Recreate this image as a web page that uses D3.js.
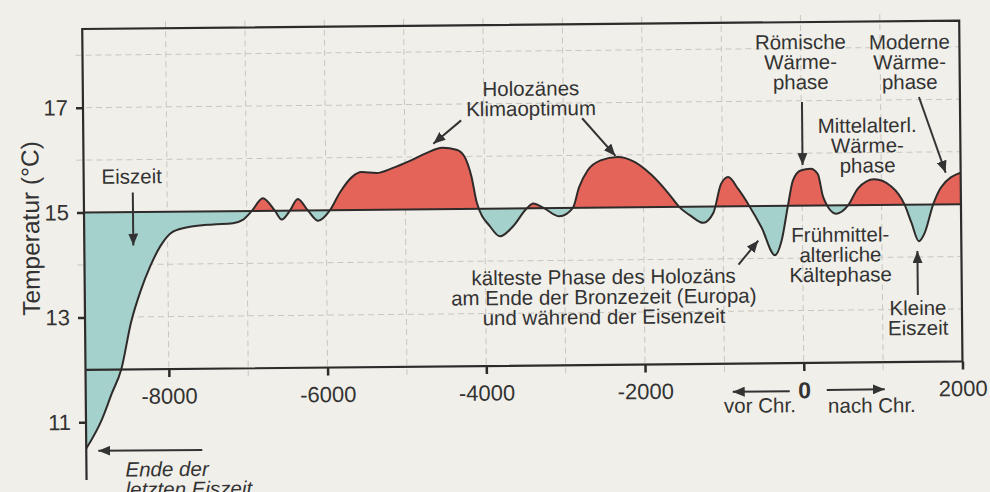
<!DOCTYPE html>
<html>
<head>
<meta charset="utf-8">
<script src="https://cdn.jsdelivr.net/npm/d3@7"></script>
<style>
  body { margin: 0; background: #f1efea; }
  text { font-family: "Liberation Sans", Arial, Helvetica, sans-serif; fill: #333; }
</style>
</head>
<body>
<script>
// Temperaturverlauf im Holozän
const years = [-9050, -8850, -8720, -8600, -8470, -8345, -8220, -8090, -7930, -7715, -7425, -7175, -7050,
  -6935, -6795, -6645, -6560, -6455, -6355, -6230, -6100, -5950, -5825, -5660, -5550, -5360, -5160,
  -4945, -4730, -4530, -4350, -4250, -4165, -4100, -3935, -3810, -3645, -3470, -3390, -3255, -3060,
  -2890, -2810, -2700, -2535, -2320, -2115, -1900, -1690, -1550, -1400, -1250, -1120, -1020, -930,
  -805, -665, -515, -350, -265, -180, -115, -15, 110, 200, 265, 430, 580, 705, 910, 1125, 1290,
  1375, 1465, 1540, 1650, 1750, 2000];
const temps = [10.5, 11.05, 11.55, 12.0, 12.9, 13.5, 13.97, 14.35, 14.62, 14.71, 14.75, 14.77, 14.83,
  15.0, 15.24, 15.0, 14.83, 15.0, 15.22, 15.0, 14.8, 15.0, 15.33, 15.64, 15.72, 15.7, 15.79,
  15.92, 16.07, 16.17, 16.13, 16.0, 15.62, 15.12, 14.66, 14.47, 14.66, 15.0, 15.09, 15.0, 14.84,
  15.0, 15.39, 15.71, 15.9, 15.96, 15.87, 15.62, 15.27, 15.0, 14.82, 14.69, 14.88, 15.43, 15.56,
  15.33, 15.0, 14.59, 14.06, 14.33, 15.0, 15.48, 15.67, 15.7, 15.6, 15.16, 14.84, 15.0, 15.32, 15.49, 15.35, 15.0,
  14.65, 14.3, 14.46, 15.0, 15.32, 15.6];

const xTickValues = [-8000, -6000, -4000, -2000, 0, 2000];
const yTickValues = [11, 13, 15, 17];
const gridYears = [-8000, -7000, -6000, -5000, -4000, -3000, -2000, -1000, 0, 1000];
const gridTemps = [13, 14, 16, 17, 18];
const baseTemp = 15;

const w = 990;
const h = 492;
const pLeft = 84, pRight = 961, pTop = 29, pBottom = 480;

const points = years.map((yr, i) => ({ year: yr, temp: temps[i] }));

const x = d3.scaleLinear().domain([-9050, 2000]).range([pLeft, pRight]);
const y = d3.scaleLinear().domain([9.9, 18.5]).range([pBottom, pTop]);

const svg = d3.select('body')
  .append('svg')
  .attr('width', w)
  .attr('height', h)
  .style('display', 'block');

svg.append('rect').attr('width', w).attr('height', h).attr('fill', '#f1efea');

const defs = svg.append('defs');
defs.append('marker')
  .attr('id', 'head')
  .attr('markerUnits', 'userSpaceOnUse')
  .attr('markerWidth', 12).attr('markerHeight', 10)
  .attr('refX', 12).attr('refY', 5)
  .attr('orient', 'auto')
  .append('path')
  .attr('d', 'M0,0 L12,5 L0,10 Z')
  .attr('fill', '#333');

defs.append('clipPath').attr('id', 'above')
  .append('rect').attr('x', pLeft).attr('y', pTop).attr('width', pRight - pLeft).attr('height', y(baseTemp) - pTop);
defs.append('clipPath').attr('id', 'below')
  .append('rect').attr('x', pLeft).attr('y', y(baseTemp)).attr('width', pRight - pLeft).attr('height', pBottom - y(baseTemp));

// the scan is slightly tilted
const g = svg.append('g').attr('transform', 'rotate(-0.55, 84, 213)');

// grid
g.selectAll('.hgrid')
  .data(gridTemps)
  .enter()
  .append('line')
  .attr('x1', pLeft - 7).attr('x2', pRight)
  .attr('y1', d => y(d)).attr('y2', d => y(d))
  .attr('stroke', '#c9c6c0').attr('stroke-width', 1).attr('stroke-dasharray', '6,4');

g.selectAll('.vgrid')
  .data(gridYears)
  .enter()
  .append('line')
  .attr('x1', d => x(d)).attr('x2', d => x(d))
  .attr('y1', pTop - 7).attr('y2', y(12) + 8)
  .attr('stroke', '#c9c6c0').attr('stroke-width', 1).attr('stroke-dasharray', '6,4');

const area = d3.area()
  .x(d => x(d.year))
  .y0(y(baseTemp))
  .y1(d => y(d.temp))
  .curve(d3.curveMonotoneX);

const line = d3.line()
  .x(d => x(d.year))
  .y(d => y(d.temp))
  .curve(d3.curveMonotoneX);

g.append('path').datum(points).attr('d', area).attr('fill', '#e5645a').attr('clip-path', 'url(#above)');
g.append('path').datum(points).attr('d', area).attr('fill', '#a4d1cb').attr('clip-path', 'url(#below)');
g.append('path').datum(points).attr('d', line).attr('fill', 'none').attr('stroke', '#2e2b2a').attr('stroke-width', 2);

// baseline 15 °C and frame
g.append('line').attr('x1', pLeft).attr('x2', pRight).attr('y1', y(baseTemp)).attr('y2', y(baseTemp))
  .attr('stroke', '#2e2b2a').attr('stroke-width', 2);
g.append('path')
  .attr('d', 'M' + pLeft + ',' + pBottom + 'V' + pTop + 'H' + pRight + 'V' + y(12) + 'H' + pLeft)
  .attr('fill', 'none').attr('stroke', '#2e2b2a').attr('stroke-width', 2.2);

const xAxis = d3.axisBottom(x).tickValues(xTickValues).tickSize(8).tickPadding(11).tickFormat(d => String(d));
const yAxis = d3.axisLeft(y).tickValues(yTickValues).tickSize(7).tickPadding(8).tickFormat(d => String(d));

const gx = g.append('g').attr('transform', 'translate(0,' + y(12) + ')').call(xAxis);
const gy = g.append('g').attr('transform', 'translate(' + pLeft + ',0)').call(yAxis);
[gx, gy].forEach(a => {
  a.select('.domain').remove();
  a.selectAll('line').attr('stroke', '#2e2b2a').attr('stroke-width', 2.5);
  a.selectAll('text').style('font-size', '22px').attr('fill', '#333');
});
gx.selectAll('text').filter(d => d === 0).style('font-weight', 'bold').style('font-size', '23px');

g.append('text')
  .attr('transform', 'translate(39,228) rotate(-90)')
  .attr('text-anchor', 'middle')
  .style('font-size', '24.5px')
  .text('Temperatur (°C)');

// annotations
const label = (lines, cx, cy, anchor, italic) => {
  const t = g.append('text')
    .attr('x', cx).attr('y', cy)
    .attr('text-anchor', anchor || 'middle')
    .style('font-size', '20.5px')
    .style('font-style', italic ? 'italic' : 'normal');
  lines.forEach((s, i) => {
    t.append('tspan').attr('x', cx).attr('dy', i ? 20 : 0).text(s);
  });
};
const arrow = (x1, y1, x2, y2) => {
  g.append('line')
    .attr('x1', x1).attr('y1', y1).attr('x2', x2).attr('y2', y2)
    .attr('stroke', '#333').attr('stroke-width', 2)
    .attr('marker-end', 'url(#head)');
};

label(['Eiszeit'], 132, 184);
arrow(133, 193, 133, 246);

label(['Holozänes', 'Klimaoptimum'], 532, 100);
arrow(462, 124, 434, 147);
arrow(583, 123, 616, 161);

label(['Römische', 'Wärme-', 'phase'], 802, 56);
arrow(803, 109, 803, 172);

label(['Moderne', 'Wärme-', 'phase'], 911, 57);
arrow(920, 105, 946, 181);

label(['Mittelalterl.', 'Wärme-', 'phase'], 868, 140);

label(['Frühmittel-', 'alterliche', 'Kältephase'], 840, 249);

label(['kälteste Phase des Holozäns', 'am Ende der Bronzezeit (Europa)', 'und während der Eisenzeit'], 603, 289);
arrow(738, 271, 758, 247);

label(['Kleine', 'Eiszeit'], 917, 323);
arrow(917, 303, 917, 259);

label(['Ende der', 'letzten Eiszeit'], 123, 477, 'start', true);
arrow(200, 451, 96, 451);

// vor / nach Chr.
arrow(788, 398, 731, 398);
arrow(825, 397, 883, 397);
label(['vor Chr.'], 758, 419);
label(['nach Chr.'], 870, 420);
</script>
</body>
</html>
